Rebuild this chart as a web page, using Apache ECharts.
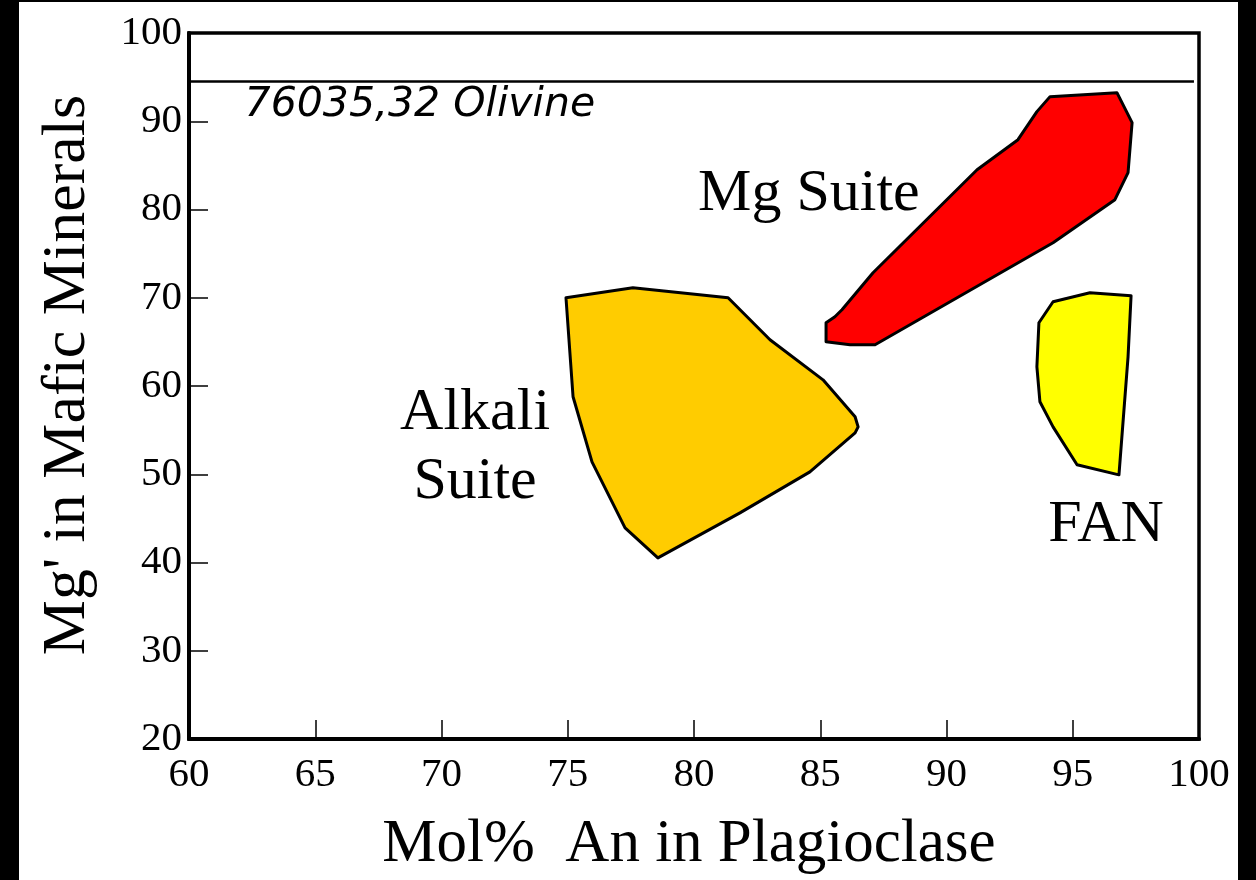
<!DOCTYPE html>
<html>
<head>
<meta charset="utf-8">
<script src="https://cdn.jsdelivr.net/npm/echarts@6/dist/echarts.min.js"></script>
<style>
html,body{margin:0;padding:0;background:#000;width:1256px;height:880px;overflow:hidden;}
#chart{position:absolute;left:19px;top:2px;width:1219px;height:878px;background:#fff;}
</style>
</head>
<body>
<div id="chart"></div>
<script>
// Axis ticks
const xTicks = [60, 65, 70, 75, 80, 85, 90, 95, 100];
const yTicks = [20, 30, 40, 50, 60, 70, 80, 90, 100];

// Field outlines [Mol% An, Mg']
const alkaliSuite = [[74.93,70.0],[77.58,71.13],[81.35,70.0],[83.01,65.24],[85.11,60.70],[86.38,56.51],[86.50,55.37],[86.38,54.69],[84.59,50.27],[81.82,45.62],[78.57,40.52],[77.27,43.92],[75.96,51.41],[75.21,58.78]];
const mgSuite = [[85.23,67.17],[85.23,65.01],[86.18,64.67],[87.17,64.67],[94.22,76.24],[96.67,81.11],[97.19,84.17],[97.35,89.84],[96.75,93.24],[94.10,92.79],[93.58,91.09],[92.83,87.91],[91.21,84.51],[87.09,72.83],[85.86,68.64],[85.58,67.85]];
const fanSuite = [[94.22,69.55],[95.68,70.57],[97.31,70.24],[97.19,63.31],[96.83,49.93],[95.17,51.07],[94.22,55.37],[93.70,58.21],[93.58,62.18],[93.66,67.17]];

// Olivine composition line
const olivineLine = [[60, 94.5],[99.8, 94.5]];

// Text labels [x, y, text]
const fieldLabels = [[71.33, 53.0, 'Alkali\nSuite'], [84.55, 81.68, 'Mg Suite'], [96.32, 44.26, 'FAN']];
const olivineLabel = [[62.2, 91.77, '76035,32 Olivine']];

const serif = '"Liberation Serif", "Times New Roman", serif';

function polySeries(name, data, color) {
  return {
    type: 'custom', name: name, data: data, z: 3,
    renderItem: function (params, api) {
      if (params.dataIndex !== 0) return;
      const pts = data.map(p => api.coord(p));
      return {
        type: 'polygon',
        shape: { points: pts },
        style: { fill: color, stroke: '#000', lineWidth: 3, lineJoin: 'round' }
      };
    },
    silent: true
  };
}

const chart = echarts.init(document.getElementById('chart'), null, { renderer: 'canvas' });
chart.setOption({
  animation: false,
  backgroundColor: '#fff',
  grid: { left: 170, right: 39, top: 31, bottom: 141, show: true, borderColor: '#000', borderWidth: 3.5, backgroundColor: 'transparent' },
  xAxis: {
    type: 'value', min: 60, max: 100, interval: 5,
    name: 'Mol%  An in Plagioclase', nameLocation: 'middle', nameGap: 75,
    nameTextStyle: { fontFamily: serif, fontSize: 61, color: '#000', padding: [0, 10, 0, 0] },
    axisLine: { show: true, lineStyle: { color: '#000', width: 4 } },
    axisTick: { show: true, inside: true, length: 19, lineStyle: { color: '#000', width: 1.5 } },
    axisLabel: { fontFamily: serif, fontSize: 41, color: '#000', margin: 16, formatter: v => xTicks.includes(v) ? String(v) : '' },
    splitLine: { show: false }
  },
  yAxis: {
    type: 'value', min: 20, max: 100, interval: 10,
    name: "Mg' in Mafic Minerals", nameLocation: 'middle', nameGap: 90,
    nameTextStyle: { fontFamily: serif, fontSize: 62, color: '#000', padding: [0, 0, 0, 22] },
    axisLine: { show: true, lineStyle: { color: '#000', width: 4 } },
    axisTick: { show: true, inside: true, length: 19, lineStyle: { color: '#000', width: 1.5 } },
    axisLabel: { fontFamily: serif, fontSize: 41, color: '#000', margin: 7, formatter: v => yTicks.includes(v) ? String(v) : '' },
    splitLine: { show: false }
  },
  series: [
    {
      type: 'line', data: olivineLine, symbol: 'none', silent: true, z: 2,
      lineStyle: { color: '#000', width: 2.5 }
    },
    polySeries('Alkali Suite', alkaliSuite, '#FFCC00'),
    polySeries('Mg Suite', mgSuite, '#FF0000'),
    polySeries('FAN', fanSuite, '#FFFF00'),
    {
      type: 'scatter', data: fieldLabels, symbolSize: 0, silent: true, z: 5,
      itemStyle: { opacity: 1 },
      label: {
        show: true, position: 'inside', formatter: p => p.data[2], opacity: 1,
        fontFamily: serif, fontSize: 60, color: '#000', lineHeight: 69, align: 'center', verticalAlign: 'middle'
      }
    },
    {
      type: 'scatter', data: olivineLabel, symbolSize: 0, silent: true, z: 5,
      itemStyle: { opacity: 1 },
      label: {
        show: true, position: 'inside', formatter: p => p.data[2], opacity: 1,
        fontFamily: '"DejaVu Sans", sans-serif', fontStyle: 'italic', fontSize: 41, color: '#000', align: 'left', verticalAlign: 'middle'
      }
    }
  ]
});
</script>
</body>
</html>
